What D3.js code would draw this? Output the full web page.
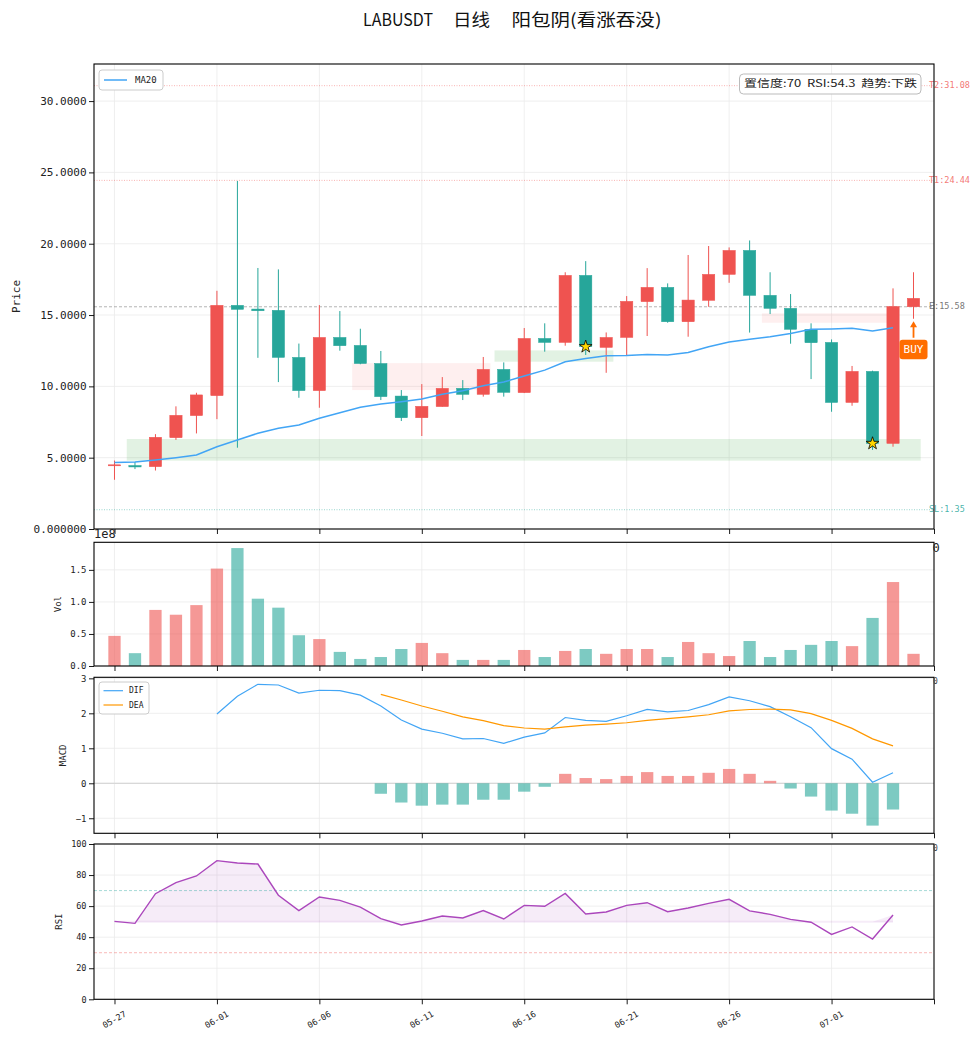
<!DOCTYPE html>
<html><head><meta charset="utf-8">
<script src="https://cdn.jsdelivr.net/npm/d3@7/dist/d3.min.js"></script>
<style>body{margin:0;background:#fff}svg{display:block}</style>
</head><body>
<svg id="chart" width="978" height="1040"></svg>
<script>
// ---------------- DATA ----------------
const dates = ["05-27","05-28","05-29","05-30","05-31","06-01","06-02","06-03","06-04","06-05",
  "06-06","06-07","06-08","06-09","06-10","06-11","06-12","06-13","06-14","06-15",
  "06-16","06-17","06-18","06-19","06-20","06-21","06-22","06-23","06-24","06-25",
  "06-26","06-27","06-28","06-29","06-30","07-01","07-02","07-03","07-04","07-05"];
const openP  = [4.45,4.45,4.37,6.40,7.95,9.35,15.68,15.42,15.33,12.03,9.70,13.43,12.87,11.60,9.32,7.80,8.58,9.86,9.44,11.19,
  9.56,13.36,13.08,17.78,12.73,13.43,15.94,16.94,14.53,16.03,17.85,19.53,16.38,15.47,14.00,13.08,8.87,11.05,6.00,15.58];
const highP  = [4.80,4.70,6.65,8.60,9.55,16.70,24.40,18.30,18.20,13.00,15.70,15.28,14.04,12.48,9.74,10.16,10.65,10.44,12.06,11.68,
  14.09,14.42,18.00,18.78,13.78,16.33,18.29,17.22,19.21,19.84,19.74,20.23,18.00,16.47,14.42,13.29,11.43,11.10,16.87,18.00];
const lowP   = [3.45,4.20,4.10,6.25,6.70,7.70,5.70,12.00,10.30,9.20,8.50,12.50,11.55,9.04,7.57,6.52,8.58,9.04,9.28,9.28,
  9.53,12.43,12.85,12.20,10.95,12.13,13.53,14.46,13.48,15.58,17.26,13.77,15.07,12.99,10.51,8.22,8.64,5.54,5.77,14.74];
const closeP = [4.50,4.35,6.43,7.97,9.40,15.68,15.40,15.30,12.03,9.70,13.43,12.85,11.60,9.28,7.80,8.60,9.86,9.44,11.19,9.58,
  13.36,13.08,17.78,12.78,13.43,15.96,16.94,14.53,16.05,17.85,19.53,16.38,15.47,14.00,13.06,8.87,11.05,6.00,15.60,16.17];
// volume in units of 1e8
const volume = [0.47,0.20,0.875,0.80,0.95,1.52,1.84,1.05,0.91,0.48,0.42,0.22,0.11,0.14,0.265,0.36,0.20,0.095,0.095,0.095,
  0.25,0.14,0.235,0.265,0.19,0.265,0.265,0.14,0.375,0.20,0.155,0.39,0.14,0.25,0.33,0.39,0.31,0.75,1.31,0.19];
const ma20 = [4.67,4.70,4.84,5.00,5.19,5.77,6.24,6.71,7.06,7.29,7.76,8.15,8.53,8.76,8.92,9.11,9.44,9.69,10.04,10.30,
  10.73,11.14,11.73,11.96,12.15,12.17,12.24,12.20,12.38,12.78,13.11,13.30,13.48,13.71,14.00,14.02,14.07,13.88,14.11];
const difStart = 5;
const dif = [1.98,2.49,2.83,2.81,2.58,2.66,2.65,2.52,2.21,1.81,1.55,1.43,1.27,1.28,1.14,1.32,1.44,1.88,1.80,1.77,
  1.93,2.11,2.04,2.08,2.25,2.47,2.36,2.19,1.90,1.59,0.99,0.69,0.03,0.30];
const deaStart = 13;
const dea = [2.54,2.38,2.21,2.06,1.90,1.79,1.65,1.58,1.55,1.61,1.66,1.69,1.73,1.80,1.85,1.90,1.96,2.07,2.11,2.12,
  2.10,1.99,1.80,1.57,1.27,1.07];
const histStart = 13;
const hist = [-0.30,-0.55,-0.64,-0.61,-0.61,-0.47,-0.47,-0.24,-0.10,0.27,0.15,0.12,0.21,0.32,0.21,0.21,0.30,0.41,0.27,0.07,
  -0.15,-0.38,-0.78,-0.87,-1.21,-0.75];
const rsi = [50.2,48.9,68.0,75.1,79.4,89.3,87.8,87.1,67.0,57.1,65.9,63.7,59.4,51.9,47.9,50.4,53.6,52.4,57.1,51.7,
  60.5,59.9,68.2,54.9,56.2,60.5,62.2,56.4,58.8,61.8,64.4,56.9,54.7,51.5,49.6,41.8,46.6,38.8,54.3];

const priceTicks = [0,5,10,15,20,25,30];
const priceTickLabels = ["0.000000","5.0000","10.0000","15.0000","20.0000","25.0000","30.0000"];
const volTicks = [0,0.5,1.0,1.5];
const volTickLabels = ["0.0","0.5","1.0","1.5"];
const macdTicks = [-1,0,1,2,3];
const macdTickLabels = ["\u22121","0","1","2","3"];
const rsiTicks = [0,20,40,60,80,100];
const rsiTickLabels = ["0","20","40","60","80","100"];
const xTickIdx = [0,5,10,15,20,25,30,35,40];

const levelNames = ["T2","T1","E","SL"];
const levelValues = [31.08,24.44,15.58,1.35];
const levelKinds = ["target","target","entry","stop"];

const zoneKinds = ["support","resist","support","resist"];
const zoneFrom = [0.6,11.6,18.55,31.6];
const zoneTo = [39.35,18.35,24.35,37.7];
const zoneLow = [4.79,9.74,11.73,14.46];
const zoneHigh = [6.31,11.63,12.52,15.12];

const starIdx = [23,37];
const signalIdx = 39;
const signalText = "BUY";
const infoText = "置信度:70  RSI:54.3  趋势:下跌";
const titleParts = ["LABUSDT","日线","阳包阴(看涨吞没)"];

// ---------------- STYLE ----------------
const UP = "#ef5350", DOWN = "#26a69a";
const MONO = "'DejaVu Sans Mono', monospace";
const CJK = "'Noto Sans CJK SC', sans-serif";
const svg = d3.select("#chart");

const L = 94, R = 934;
const X = d3.scaleLinear().domain([-1, 40]).range([L, R]);
const yMain = d3.scaleLinear().domain([0, 32.6]).range([529, 64]);
const yVol = d3.scaleLinear().domain([0, 1.93]).range([666, 542.3]);
const yMacd = d3.scaleLinear().domain([-1.43, 3.03]).range([833.3, 677.3]);
const yRsi = d3.scaleLinear().domain([0, 100]).range([999.3, 844]);
const bw = X(0.3) - X(-0.3);

function grid(y, ticks) {
  const g = svg.append("g");
  const [b, t] = y.range();
  ticks.forEach(v => g.append("line").attr("x1", L).attr("x2", R).attr("y1", y(v)).attr("y2", y(v))
    .attr("stroke", "#ebebeb").attr("stroke-width", 0.8));
  xTickIdx.slice(0, -1).forEach(i => g.append("line").attr("x1", X(i)).attr("x2", X(i)).attr("y1", t).attr("y2", b)
    .attr("stroke", "#ebebeb").attr("stroke-width", 0.8));
}
function axes(y, ticks, labels, fs, name, nameX, nameFs) {
  const [b, t] = y.range();
  const ga = svg.append("g").attr("transform", `translate(${L},0)`)
    .call(d3.axisLeft(y).tickValues(ticks).tickFormat((d, i) => labels[i]).tickSize(5).tickPadding(2.5));
  ga.select(".domain").remove();
  ga.selectAll("text").attr("font-family", MONO).attr("font-size", fs).attr("fill", "#222");
  ga.selectAll("line").attr("stroke", "#000").attr("stroke-width", 0.9);
  const gb = svg.append("g").attr("transform", `translate(0,${b})`)
    .call(d3.axisBottom(X).tickValues(xTickIdx).tickFormat("").tickSize(5));
  gb.select(".domain").remove();
  gb.selectAll("line").attr("stroke", "#000").attr("stroke-width", 0.9);
  svg.append("text").attr("transform", `translate(${nameX},${(t + b) / 2}) rotate(-90)`)
    .attr("text-anchor", "middle").attr("dominant-baseline", "middle")
    .attr("font-family", MONO).attr("font-size", nameFs).attr("fill", "#222").text(name);
}
function border(y) {
  const [b, t] = y.range();
  svg.append("rect").attr("x", L).attr("y", t).attr("width", R - L).attr("height", b - t)
    .attr("fill", "none").attr("stroke", "#000").attr("stroke-width", 1.1);
}

// ---------------- TITLE ----------------
const titleX = [363, 453, 511.5], titleW = [70, 37, 150];
titleParts.forEach((s, i) => svg.append("text").attr("x", titleX[i]).attr("y", 25.5)
  .attr("font-family", CJK).attr("font-size", 17).attr("fill", "#111")
  .attr("textLength", titleW[i]).attr("lengthAdjust", "spacingAndGlyphs").text(s));

// ---------------- MAIN PANEL ----------------
grid(yMain, priceTicks);
const idx = d3.range(dates.length);
// zones
zoneKinds.forEach((k, i) => svg.append("rect")
  .attr("x", X(zoneFrom[i])).attr("width", X(zoneTo[i]) - X(zoneFrom[i]))
  .attr("y", yMain(zoneHigh[i])).attr("height", yMain(zoneLow[i]) - yMain(zoneHigh[i]))
  .attr("fill", k === "support" ? "rgba(76,175,80,0.16)" : "rgba(239,83,80,0.09)"));
// level lines
const levelColor = {target: "rgba(239,83,80,0.55)", entry: "rgba(120,120,120,0.7)", stop: "rgba(38,166,154,0.6)"};
const levelText = {target: "rgba(239,83,80,0.8)", entry: "#777", stop: "rgba(38,166,154,0.85)"};
levelValues.forEach((v, i) => {
  const k = levelKinds[i];
  svg.append("line").attr("x1", L).attr("x2", R).attr("y1", yMain(v)).attr("y2", yMain(v))
    .attr("stroke", levelColor[k]).attr("stroke-width", 0.8)
    .attr("stroke-dasharray", k === "entry" ? "3,2" : "1,1.5");
  svg.append("text").attr("x", 929).attr("y", yMain(v)).attr("dominant-baseline", "middle")
    .attr("font-family", MONO).attr("font-size", 8.5).attr("fill", levelText[k])
    .text(levelNames[i] + ":" + v.toFixed(2));
});
// candles
const cg = svg.append("g");
idx.forEach(i => {
  const up = closeP[i] >= openP[i];
  const col = up ? UP : DOWN;
  cg.append("line").attr("x1", X(i)).attr("x2", X(i)).attr("y1", yMain(highP[i])).attr("y2", yMain(lowP[i]))
    .attr("stroke", col).attr("stroke-width", 1);
  const yt = yMain(Math.max(openP[i], closeP[i])), yb = yMain(Math.min(openP[i], closeP[i]));
  cg.append("rect").attr("x", X(i) - bw / 2).attr("width", bw).attr("y", yt).attr("height", Math.max(1, yb - yt))
    .attr("fill", col).attr("stroke", col).attr("stroke-width", 0.5);
});
// MA20
svg.append("path").datum(ma20)
  .attr("d", d3.line().x((d, i) => X(i)).y(d => yMain(d)))
  .attr("fill", "none").attr("stroke", "#42a5f5").attr("stroke-width", 1.5);
// stars
starIdx.forEach(i => svg.append("path").attr("d", d3.symbol(d3.symbolStar).size(50)())
  .attr("transform", `translate(${X(i)},${yMain(closeP[i])})`)
  .attr("fill", "#ffd700").attr("stroke", "#000").attr("stroke-width", 0.8));
// BUY signal
{
  const sx = X(signalIdx), tip = yMain(lowP[signalIdx]) + 2.5;
  const boxTop = tip + 18.5;
  const orange = "#ff6d00";
  svg.append("line").attr("x1", sx).attr("x2", sx).attr("y1", boxTop - 2).attr("y2", tip + 4)
    .attr("stroke", orange).attr("stroke-width", 1.8);
  svg.append("path").attr("d", `M${sx},${tip} L${sx - 3.5},${tip + 6} L${sx + 3.5},${tip + 6} Z`).attr("fill", orange);
  svg.append("rect").attr("x", sx - 14).attr("y", boxTop).attr("width", 28).attr("height", 19.5).attr("rx", 3)
    .attr("fill", orange);
  svg.append("text").attr("x", sx).attr("y", boxTop + 10).attr("text-anchor", "middle").attr("dominant-baseline", "middle")
    .attr("font-family", MONO).attr("font-size", 11).attr("fill", "#fff").text(signalText);
}
// legend
svg.append("rect").attr("x", 99).attr("y", 70).attr("width", 64).attr("height", 20).attr("rx", 3)
  .attr("fill", "#fff").attr("stroke", "#ccc").attr("stroke-width", 1);
svg.append("line").attr("x1", 104).attr("x2", 127).attr("y1", 80).attr("y2", 80).attr("stroke", "#42a5f5").attr("stroke-width", 1.5);
svg.append("text").attr("x", 135).attr("y", 80).attr("dominant-baseline", "middle")
  .attr("font-family", MONO).attr("font-size", 9).attr("fill", "#222").text("MA20");
// info box
svg.append("rect").attr("x", 739.5).attr("y", 74).attr("width", 181.5).attr("height", 20).attr("rx", 4)
  .attr("fill", "rgba(255,255,255,0.9)").attr("stroke", "#bbb").attr("stroke-width", 1);
svg.append("text").attr("x", 744).attr("y", 84.5).attr("dominant-baseline", "middle")
  .attr("font-family", CJK).attr("font-size", 10).attr("fill", "#222")
  .attr("textLength", 173).attr("lengthAdjust", "spacingAndGlyphs").attr("xml:space", "preserve").text(infoText);
axes(yMain, priceTicks, priceTickLabels, 11, "Price", 17, 11);
border(yMain);

// ---------------- VOLUME ----------------
grid(yVol, volTicks);
idx.forEach(i => svg.append("rect").attr("x", X(i) - bw / 2).attr("width", bw)
  .attr("y", yVol(volume[i])).attr("height", yVol(0) - yVol(volume[i]))
  .attr("fill", closeP[i] >= openP[i] ? UP : DOWN).attr("opacity", 0.6));
axes(yVol, volTicks, volTickLabels, 9, "Vol", 58, 9);
border(yVol);

// ---------------- MACD ----------------
grid(yMacd, macdTicks);
svg.append("line").attr("x1", L).attr("x2", R).attr("y1", yMacd(0)).attr("y2", yMacd(0))
  .attr("stroke", "#d8d8d8").attr("stroke-width", 1.2);
hist.forEach((h, k) => {
  const i = k + histStart;
  svg.append("rect").attr("x", X(i) - bw / 2).attr("width", bw)
    .attr("y", yMacd(Math.max(0, h))).attr("height", Math.abs(yMacd(h) - yMacd(0)))
    .attr("fill", h >= 0 ? UP : DOWN).attr("opacity", 0.6);
});
svg.append("path").datum(dif).attr("d", d3.line().x((d, k) => X(k + difStart)).y(d => yMacd(d)))
  .attr("fill", "none").attr("stroke", "#42a5f5").attr("stroke-width", 1.2);
svg.append("path").datum(dea).attr("d", d3.line().x((d, k) => X(k + deaStart)).y(d => yMacd(d)))
  .attr("fill", "none").attr("stroke", "#ff9800").attr("stroke-width", 1.2);
svg.append("rect").attr("x", 99).attr("y", 682).attr("width", 50).attr("height", 32).attr("rx", 3)
  .attr("fill", "#fff").attr("stroke", "#ccc").attr("stroke-width", 1);
[["DIF", "#42a5f5", 690.7], ["DEA", "#ff9800", 705]].forEach(([t, c, yy]) => {
  svg.append("line").attr("x1", 103.5).attr("x2", 123).attr("y1", yy).attr("y2", yy).attr("stroke", c).attr("stroke-width", 1.2);
  svg.append("text").attr("x", 129).attr("y", yy).attr("dominant-baseline", "middle")
    .attr("font-family", MONO).attr("font-size", 8).attr("fill", "#222").text(t);
});
axes(yMacd, macdTicks, macdTickLabels, 9, "MACD", 63.5, 9);
border(yMacd);

// ---------------- RSI ----------------
grid(yRsi, rsiTicks);
svg.append("path").datum(rsi)
  .attr("d", d3.area().x((d, i) => X(i)).y0(yRsi(50)).y1(d => yRsi(Math.max(50, d))))
  .attr("fill", "rgba(171,71,188,0.1)");
svg.append("line").attr("x1", X(0)).attr("x2", X(rsi.length - 1)).attr("y1", yRsi(50)).attr("y2", yRsi(50))
  .attr("stroke", "rgba(171,71,188,0.1)").attr("stroke-width", 2);
svg.append("line").attr("x1", L).attr("x2", R).attr("y1", yRsi(70)).attr("y2", yRsi(70))
  .attr("stroke", "rgba(38,166,154,0.5)").attr("stroke-width", 0.8).attr("stroke-dasharray", "3,2");
svg.append("line").attr("x1", L).attr("x2", R).attr("y1", yRsi(30)).attr("y2", yRsi(30))
  .attr("stroke", "rgba(239,83,80,0.5)").attr("stroke-width", 0.8).attr("stroke-dasharray", "3,2");
svg.append("path").datum(rsi).attr("d", d3.line().x((d, i) => X(i)).y(d => yRsi(d)))
  .attr("fill", "none").attr("stroke", "#ab47bc").attr("stroke-width", 1.4);
axes(yRsi, rsiTicks, rsiTickLabels, 8.5, "RSI", 59, 9);
border(yRsi);
xTickIdx.filter(i => i < dates.length).forEach(i => svg.append("text")
  .attr("transform", `translate(${X(i)},1020) rotate(-30)`)
  .attr("text-anchor", "middle").attr("dominant-baseline", "middle")
  .attr("font-family", MONO).attr("font-size", 8.5).attr("fill", "#222").text(dates[i]));

// ---------------- stray axis artefacts ----------------
svg.append("text").attr("x", 94).attr("y", 538).attr("font-family", MONO).attr("font-size", 12).attr("fill", "#222").text("1e8");
svg.append("text").attr("x", 932.5).attr("y", 552).attr("font-family", MONO).attr("font-size", 12).attr("fill", "#222").text("0");
svg.append("text").attr("x", 933).attr("y", 684).attr("font-family", MONO).attr("font-size", 8).attr("fill", "#444").text("0");
svg.append("text").attr("x", 933).attr("y", 851).attr("font-family", MONO).attr("font-size", 8).attr("fill", "#444").text("0");
</script>
</body></html>
